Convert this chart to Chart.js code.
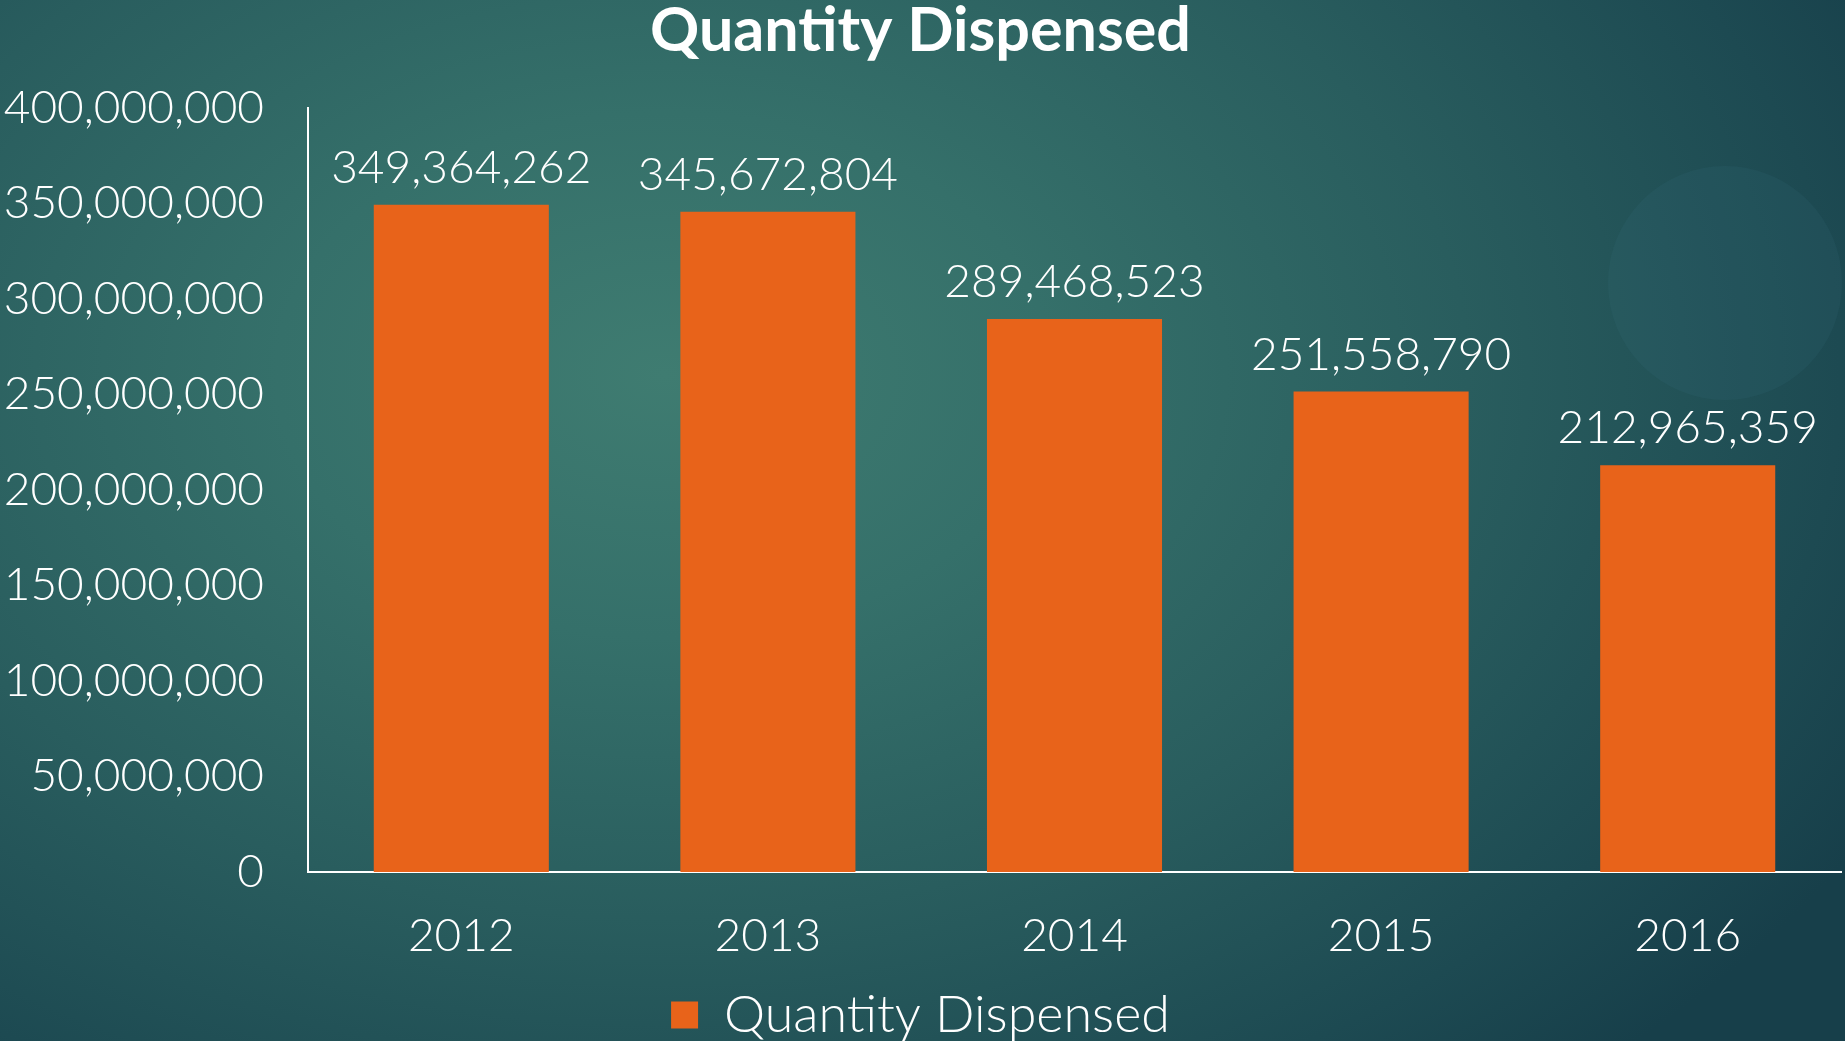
<!DOCTYPE html>
<html>
<head>
<meta charset="utf-8">
<script src="https://cdn.jsdelivr.net/npm/chart.js@4.4.0/dist/chart.umd.min.js"></script>
<style>
html,body{margin:0;padding:0;}
body{width:1845px;height:1041px;overflow:hidden;position:relative;
  background:radial-gradient(ellipse 75% 90% at 36% 36%, #3f7c71 0%, #35706a 28%, #295d5e 58%, #1d4a52 85%, #173f4a 100%);}
#deco{position:absolute;left:1608px;top:166px;width:234px;height:234px;border-radius:50%;background:rgba(70,130,145,0.10);}
#wrap{position:absolute;left:0;top:0;width:1845px;height:1041px;}
</style>
</head>
<body>
<div id="deco"></div>
<div id="wrap"><canvas id="c" width="1845" height="1041"></canvas></div>
<script>
// data
const years=['2012','2013','2014','2015','2016'];
const quantity=[349364262,345672804,289468523,251558790,212965359];
const seriesName='Quantity Dispensed';
const yMax=400000000, yStep=50000000;

const FONT='Lato, "Open Sans", sans-serif';
const fmt=v=>Number(v).toLocaleString('en-US');

// value labels above bars
const valueLabels={
  id:'valueLabels',
  afterDatasetsDraw(chart){
    const ctx=chart.ctx, meta=chart.getDatasetMeta(0);
    ctx.save();
    ctx.fillStyle='#fff';
    ctx.font='300 46px '+FONT;
    ctx.textAlign='center';
    ctx.textBaseline='alphabetic';
    meta.data.forEach((bar,i)=>{
      ctx.fillText(fmt(quantity[i]), bar.x, bar.y-22);
    });
    ctx.restore();
  }
};

new Chart(document.getElementById('c'),{
  type:'bar',
  data:{
    labels:years,
    datasets:[{label:seriesName, data:quantity, backgroundColor:'#e8631a',
      categoryPercentage:1, barPercentage:0.571}]
  },
  options:{
    responsive:false, animation:false, devicePixelRatio:1,
    layout:{padding:{top:0,left:0,right:4,bottom:-10}},
    plugins:{
      title:{display:true, text:seriesName, color:'#fff',
        font:{family:FONT,size:61,weight:'bold',lineHeight:1},
        padding:{top:1,bottom:46}},
      legend:{position:'bottom',
        labels:{color:'#fff', font:{family:FONT,size:52,weight:300,lineHeight:1},
          boxWidth:27, boxHeight:27, padding:8}},
      tooltip:{enabled:false}
    },
    scales:{
      x:{
        grid:{display:false, drawTicks:false},
        border:{display:true, color:'#fff', width:2},
        ticks:{color:'#fff', font:{family:FONT,size:46,weight:300}, padding:37},
        afterFit(s){ s.height=109; }
      },
      y:{
        min:0, max:yMax,
        grid:{display:false, drawTicks:false},
        border:{display:true, color:'#fff', width:2},
        ticks:{stepSize:yStep, color:'#fff', font:{family:FONT,size:46,weight:300}, padding:44,
          callback:v=>fmt(v)},
        afterFit(s){ s.width=308; }
      }
    }
  },
  plugins:[valueLabels]
});
</script>
</body>
</html>
